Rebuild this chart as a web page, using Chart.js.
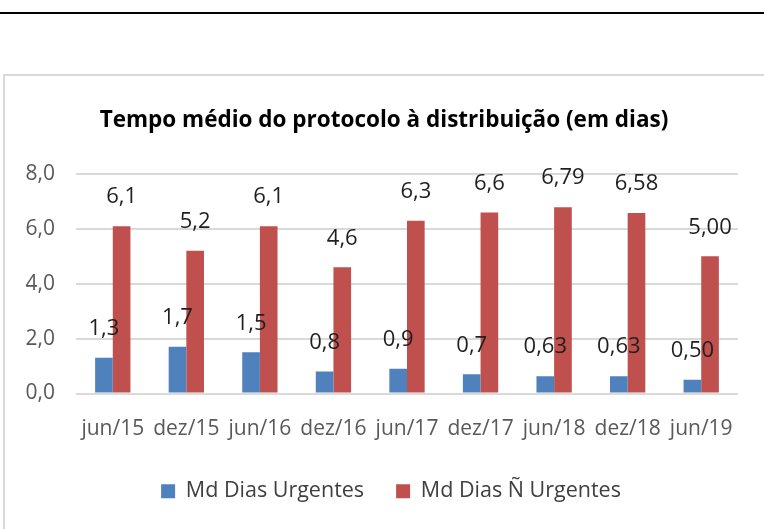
<!DOCTYPE html>
<html>
<head>
<meta charset="utf-8">
<script src="https://cdn.jsdelivr.net/npm/chart.js@4"></script>
<style>
  html, body { margin: 0; padding: 0; background: #fff; overflow: hidden; }
  #topLine { position: absolute; left: 0; top: 12px; width: 764px; height: 2px; background: #000; }
  #frame { position: absolute; left: 3px; top: 74px; width: 800px; height: 600px; border: 2px solid #d9d9d9; }
  #chart { position: absolute; left: 0; top: 0; }
</style>
</head>
<body>
<div id="topLine"></div>
<div id="frame"></div>
<canvas id="chart" width="764" height="529"></canvas>
<script>
const categories = ['jun/15', 'dez/15', 'jun/16', 'dez/16', 'jun/17', 'dez/17', 'jun/18', 'dez/18', 'jun/19'];
const urgentes = [1.3, 1.7, 1.5, 0.8, 0.9, 0.7, 0.63, 0.63, 0.50];
const naoUrgentes = [6.1, 5.2, 6.1, 4.6, 6.3, 6.6, 6.79, 6.58, 5.00];
const urgentesLabels = ['1,3', '1,7', '1,5', '0,8', '0,9', '0,7', '0,63', '0,63', '0,50'];
const naoUrgentesLabels = ['6,1', '5,2', '6,1', '4,6', '6,3', '6,6', '6,79', '6,58', '5,00'];
const yTicks = ['0,0', '2,0', '4,0', '6,0', '8,0'];

// value labels drawn above each bar
const valueLabels = {
    id: 'valueLabels',
    afterLayout(chart) {
        // let the y tick labels spill into the left padding instead of being clipped
        chart.scales.y.left = 0;
        // legend sits a little right of the title in the original
        chart.legend.left += 7;
        chart.legend.right += 7;
    },
    afterDatasetsDraw(chart) {
        const ctx = chart.ctx;
        const texts = [urgentesLabels, naoUrgentesLabels];
        ctx.save();
        ctx.font = '22px "Open Sans"';
        ctx.fillStyle = '#1f1f1f';
        ctx.textAlign = 'center';
        ctx.textBaseline = 'middle';
        chart.data.datasets.forEach((ds, i) => {
            chart.getDatasetMeta(i).data.forEach((bar, j) => {
                ctx.fillText(texts[i][j], bar.x, bar.y - 29);
            });
        });
        ctx.restore();
    }
};

new Chart(document.getElementById('chart'), {
    type: 'bar',
    data: {
        labels: categories,
        datasets: [{
            label: 'Md Dias Urgentes',
            data: urgentes,
            backgroundColor: '#4f81bd'
        }, {
            label: 'Md Dias Ñ Urgentes',
            data: naoUrgentes,
            backgroundColor: '#c0504d'
        }]
    },
    options: {
        responsive: false,
        animation: false,
        layout: { padding: { left: 30, right: 26, top: 90, bottom: 17 } },
        datasets: { bar: { categoryPercentage: 0.48, barPercentage: 1.0 } },
        plugins: {
            title: {
                display: true,
                text: 'Tempo médio do protocolo à distribuição (em dias)',
                color: '#000',
                font: { family: '"Open Sans"', size: 22.5, weight: 'bold' },
                padding: { top: 17, bottom: 40 }
            },
            legend: {
                position: 'bottom',
                labels: {
                    boxWidth: 14,
                    boxHeight: 14,
                    padding: 32,
                    color: '#404040',
                    font: { family: '"Open Sans"', size: 21.5 }
                }
            },
            tooltip: { enabled: false }
        },
        scales: {
            x: {
                grid: { display: false },
                border: { display: false },
                ticks: { color: '#595959', font: { family: '"Open Sans"', size: 21 }, padding: 15, maxRotation: 0, autoSkip: false },
                afterFit: (s) => { s.height = 55; }
            },
            y: {
                min: 0,
                max: 8,
                ticks: {
                    stepSize: 2,
                    color: '#595959',
                    font: { family: '"Open Sans"', size: 21 },
                    padding: 21,
                    callback: (v, i) => yTicks[i]
                },
                grid: { color: '#d9d9d9', lineWidth: 2, drawTicks: false },
                border: { display: false },
                afterFit: (s) => { s.width = 46; }
            }
        }
    },
    plugins: [valueLabels]
});
</script>
</body>
</html>
